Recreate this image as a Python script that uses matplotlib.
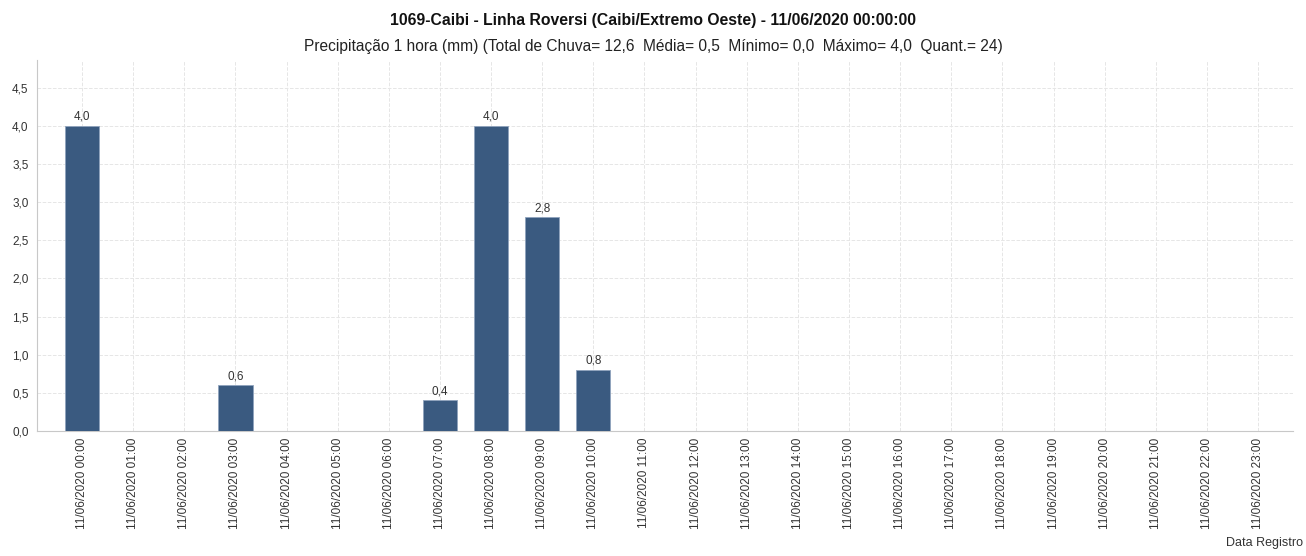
import numpy as np
import matplotlib.pyplot as plt

plt.rcParams['font.family'] = ['Liberation Sans', 'DejaVu Sans']

# Data
hours = ["%02d:00" % h for h in range(24)]
labels = ["11/06/2020 " + h for h in hours]
values = [4.0, 0, 0, 0.6, 0, 0, 0, 0.4, 4.0, 2.8, 0.8, 0,
          0, 0, 0, 0, 0, 0, 0, 0, 0, 0, 0, 0]
yticks = [0.0, 0.5, 1.0, 1.5, 2.0, 2.5, 3.0, 3.5, 4.0, 4.5]

title = "1069-Caibi - Linha Roversi (Caibi/Extremo Oeste) - 11/06/2020 00:00:00"
subtitle = ("Precipitação 1 hora (mm) (Total de Chuva= 12,6  Média= 0,5  "
            "Mínimo= 0,0  Máximo= 4,0  Quant.= 24)")

fig = plt.figure(figsize=(13.06, 5.56), dpi=100)
ax = fig.add_axes([0.0283, 0.2248, 0.9617, 0.6672])

x = np.arange(len(values))
bars = ax.bar(x, values, width=0.67, color='#3a5a80', edgecolor='#8fa3bd',
              linewidth=0.6, zorder=3)

for xi, v in zip(x, values):
    if v > 0:
        ax.text(xi, v + 0.04, ("%.1f" % v).replace('.', ','), ha='center',
                va='bottom', fontsize=8.5, color='#333333')

ax.set_xlim(-0.88, 23.68)
ax.set_ylim(0, 4.86)
ax.set_yticks(yticks)
ax.set_yticklabels([("%.1f" % t).replace('.', ',') for t in yticks])
ax.set_xticks(x)
ax.set_xticklabels(labels, rotation=90)
ax.tick_params(axis='both', labelsize=8.5, colors='#333333', length=0)
ax.tick_params(axis='x', pad=5)
ax.tick_params(axis='y', pad=6)

ax.grid(True, color='#e6e6e6', linestyle='--', linewidth=0.7, zorder=0)
for s in ['top', 'right']:
    ax.spines[s].set_visible(False)
for s in ['left', 'bottom']:
    ax.spines[s].set_color('#c8c8c8')

fig.text(0.5, 0.964, title, ha='center', va='center', fontsize=11.3,
         fontweight='bold', color='#111111')
fig.text(0.5, 0.917, subtitle, ha='center', va='center', fontsize=11.2,
         color='#222222')
fig.text(0.998, 0.012, "Data Registro", ha='right', va='bottom',
         fontsize=9, color='#333333')

fig.savefig("out.png", dpi=100)
